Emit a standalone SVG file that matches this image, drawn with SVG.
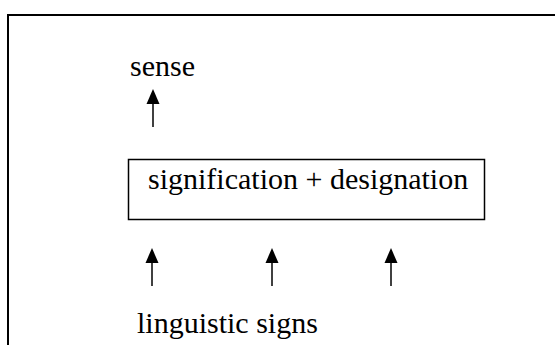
<svg xmlns="http://www.w3.org/2000/svg" width="555" height="345" viewBox="0 0 555 345">
  <style>
    text { font-family: 'Liberation Serif', serif; font-size: 30px; fill: #000; }
    .ln { stroke: #000; stroke-width: 1.5; fill: none; }
  </style>
  <rect width="555" height="345" fill="#fff"/>
  <g id="frame">
    <path d="M8,360 L8,15 L570,15" fill="none" stroke="#000" stroke-width="2"/>
  </g>
  <g id="sense">
    <text x="130" y="76" font-family="Liberation Serif, serif">sense</text>
  </g>
  <g id="box">
    <rect x="128.5" y="159.5" width="356" height="60" fill="#fff" stroke="#000" stroke-width="1.5"/>
    <text x="148" y="189" font-family="Liberation Serif, serif">signification + designation</text>
  </g>
  <g id="signs">
    <text x="137" y="333" font-family="Liberation Serif, serif">linguistic signs</text>
  </g>
  <g id="connectors">
    <line class="ln" x1="153" y1="127" x2="153" y2="102"/>
    <polygon points="153,89 146.5,104 159.5,104" fill="#000"/>
    <line class="ln" x1="152" y1="286" x2="152" y2="261"/>
    <polygon points="152,248 145.5,263 158.5,263" fill="#000"/>
    <line class="ln" x1="272" y1="286" x2="272" y2="261"/>
    <polygon points="272,248 265.5,263 278.5,263" fill="#000"/>
    <line class="ln" x1="391" y1="286" x2="391" y2="261"/>
    <polygon points="391,248 384.5,263 397.5,263" fill="#000"/>
  </g>
</svg>
